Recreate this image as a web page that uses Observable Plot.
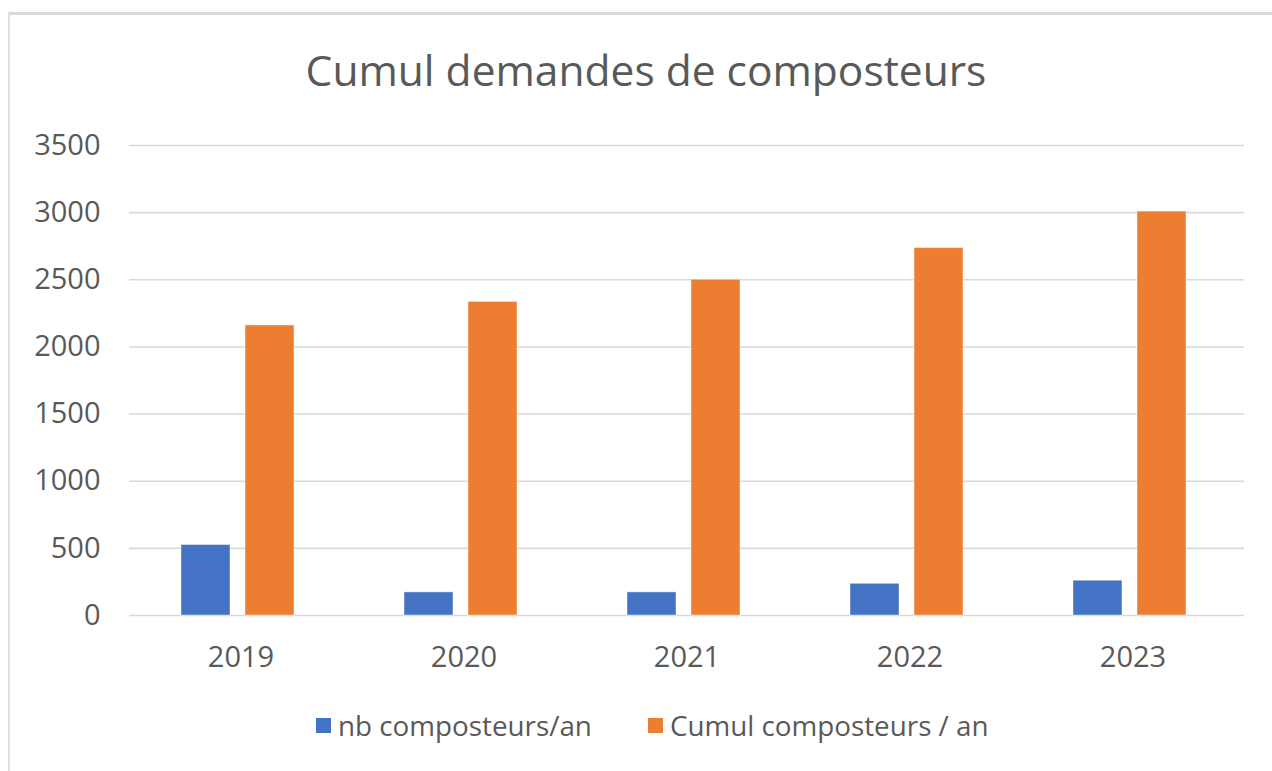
<!DOCTYPE html>
<html>
<head>
<meta charset="utf-8">
<script src="https://cdn.jsdelivr.net/npm/d3@7"></script>
<script src="https://cdn.jsdelivr.net/npm/@observablehq/plot@0.6"></script>
<style>
  html, body { margin: 0; padding: 0; background: #fff; overflow: hidden; }
  body { width: 1272px; height: 771px; position: relative; font-family: "Open Sans", sans-serif; color: #595959; }
  #frame { position: absolute; left: 8px; top: 12px; width: 1300px; height: 800px;
           border-top: 3px solid #d9d9d9; border-left: 2px solid #e0e0e0; box-sizing: border-box; }
  #title { position: absolute; left: 0; width: 1292px; top: 49px; text-align: center;
           font-size: 42.5px; line-height: 1; white-space: nowrap; }
  #chart { position: absolute; left: 0; top: 0; }
  #legend { position: absolute; left: 316px; top: 712px; display: flex; align-items: center;
            font-size: 27.8px; line-height: 1; white-space: nowrap; }
  .item { display: flex; align-items: center; }
  .sw { width: 15px; height: 15px; margin-right: 7px; }
</style>
</head>
<body>
<div id="frame"></div>
<div id="chart"></div>
<div id="title">Cumul demandes de composteurs</div>
<div id="legend"></div>
<script>
const years = ["2019", "2020", "2021", "2022", "2023"];
const nbParAn = [525, 172, 172, 236, 259];
const cumulParAn = [2160, 2335, 2500, 2736, 3008];
const seriesNames = ["nb composteurs/an", "Cumul composteurs / an"];
const seriesColors = ["#4472C4", "#ED7D31"];
const yTicks = [0, 500, 1000, 1500, 2000, 2500, 3000, 3500];

const data = years.flatMap((yr, i) => [
  {year: yr, serie: seriesNames[0], value: nbParAn[i]},
  {year: yr, serie: seriesNames[1], value: cumulParAn[i]}
]);

const chart = Plot.plot({
  width: 1272,
  height: 700,
  marginLeft: 127,
  marginRight: 27,
  marginTop: 145,
  marginBottom: 85,
  style: {fontFamily: "'Open Sans', sans-serif", fontSize: "29px", color: "#595959", background: "transparent", overflow: "visible"},
  fx: {domain: years, padding: 0, label: null, tickSize: 0, tickPadding: 31, axis: "bottom"},
  x: {domain: seriesNames, axis: null, paddingInner: 0.23, paddingOuter: 0.84, align: 0.47},
  y: {domain: [0, 3500], ticks: yTicks, tickSize: 0, tickPadding: 29, label: null, tickFormat: d => String(d)},
  color: {domain: seriesNames, range: seriesColors},
  marks: [
    Plot.ruleY(yTicks, {stroke: "#d9d9d9", strokeWidth: 1.6}),
    Plot.barY(data, {fx: "year", x: "serie", y: "value", fill: "serie", stroke: "#ffffff", strokeOpacity: 0.45, strokeWidth: 1})
  ]
});
document.getElementById("chart").appendChild(chart);

const legend = document.getElementById("legend");
seriesNames.forEach((name, i) => {
  const item = document.createElement("div");
  item.className = "item";
  if (i > 0) item.style.marginLeft = "56px";
  const sw = document.createElement("div");
  sw.className = "sw";
  sw.style.background = seriesColors[i];
  const label = document.createElement("span");
  label.textContent = name;
  item.appendChild(sw);
  item.appendChild(label);
  legend.appendChild(item);
});
</script>
</body>
</html>
